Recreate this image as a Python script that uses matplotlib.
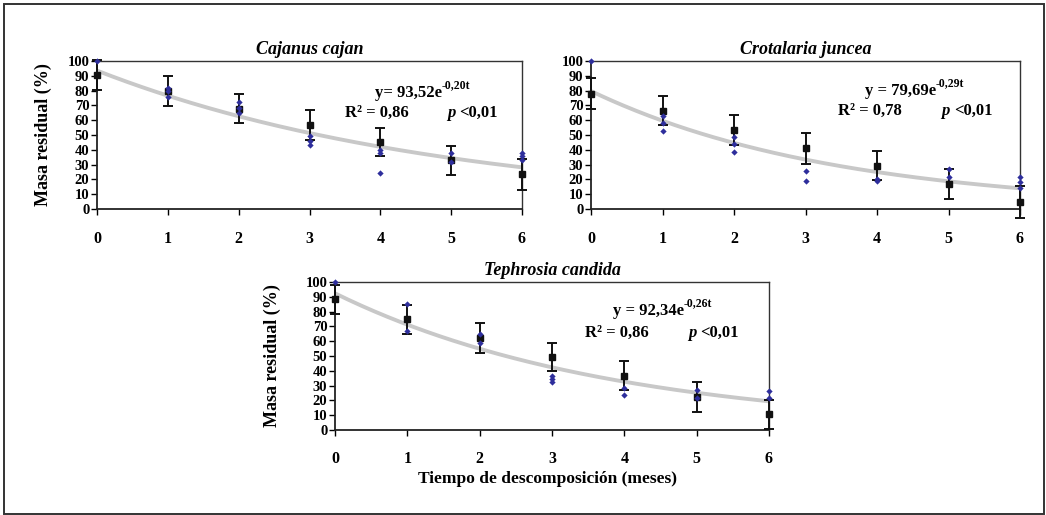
import numpy as np
import matplotlib
matplotlib.use('Agg')
import matplotlib.pyplot as plt
from matplotlib.patches import Rectangle

plt.rcParams['font.family'] = ['Liberation Serif', 'DejaVu Serif']
plt.rcParams['font.weight'] = 'bold'

W, H = 1046, 515

# months of decomposition
months = [0, 1, 2, 3, 4, 5, 6]

# Cajanus cajan
cc_mean = [90.5, 79.7, 67.8, 56.8, 45.5, 32.9, 23.4]
cc_sd = [10.0, 10.0, 10.0, 10.0, 9.5, 10.0, 10.5]
cc_reps = [[100], [82, 80, 76], [72, 68, 65], [49, 46, 43], [40, 38, 24], [38, 32], [38, 36, 33]]

# Crotalaria juncea
cj_mean = [78.0, 66.4, 53.6, 41.0, 29.3, 16.7, 4.9]
cj_sd = [10.2, 9.8, 10.2, 10.3, 9.7, 10.2, 10.8]
cj_reps = [[100], [62.6, 57.9, 52.9], [48.4, 44, 38.7], [25.7, 19.1], [20, 18.8], [27, 21.6], [21.4, 18, 14]]

# Tephrosia candida
tc_mean = [88.3, 74.8, 62.0, 49.5, 36.7, 22.5, 10.6]
tc_sd = [10.0, 9.9, 10.0, 9.6, 9.9, 10.2, 10.0]
tc_reps = [[100], [84.9, 67.1], [64.7, 59], [36.7, 34.5, 32.7], [28.2, 23.6], [27, 21.4], [26.4, 21.4]]

# fitted model y = a * exp(-b t), as printed on each panel
fits = {
    'Cajanus cajan': (93.52, 0.20),
    'Crotalaria juncea': (79.69, 0.29),
    'Tephrosia candida': (92.34, 0.26),
}
eq_text = {
    'Cajanus cajan': ('y= 93,52e', '-0,20t', 'R² = 0,86'),
    'Crotalaria juncea': ('y = 79,69e', '-0,29t', 'R² = 0,78'),
    'Tephrosia candida': ('y = 92,34e', '-0,26t', 'R² = 0,86'),
}


def px_axes(fig, left, top, right, bottom):
    return fig.add_axes([left / W, (H - bottom) / H, (right - left) / W, (bottom - top) / H])


def draw_panel(ax, name, mean, sd, reps, xpad, eq_pos, ylabel_x=None, xlabel=False):
    a, b = fits[name]
    tt = np.linspace(0, 6, 200)
    ax.plot(tt, a * np.exp(-b * tt), color='#c8c8c8', lw=2.8, zorder=2, solid_capstyle='butt')

    ax.errorbar(months, mean, yerr=sd, fmt='s', color='#111111', ms=4.8,
                ecolor='#111111', elinewidth=1.4, capsize=3.6, capthick=1.4,
                zorder=3, clip_on=False)

    rx = [m for m, r in zip(months, reps) for _ in r]
    ry = [v for r in reps for v in r]
    ax.plot(rx, ry, 'D', color='#2e2e9c', ms=3.2, mec='none', zorder=4, clip_on=False)

    ax.set_xlim(0, 6)
    ax.set_ylim(0, 100)
    ax.set_xticks(months)
    ax.set_yticks(range(0, 101, 10))
    ax.tick_params(axis='x', direction='out', length=4, width=1, pad=xpad, labelsize=11.5)
    ax.tick_params(axis='y', direction='out', length=4, width=1, pad=1.5, labelsize=10.5)
    for s in ['left', 'bottom']:
        ax.spines[s].set_linewidth(1.3)
        ax.spines[s].set_color('#222222')
    for s in ['top', 'right']:
        ax.spines[s].set_linewidth(1.0)
        ax.spines[s].set_color('#333333')

    ax.set_title(name, fontsize=13, fontstyle='italic', fontweight='bold', pad=5)

    (ex, ey), (rx0, ry0), px0 = eq_pos
    main, sup, r2 = eq_text[name]
    t1 = ax.text(ex, ey, main, fontsize=12, va='center', ha='left')
    ax.annotate(sup, xy=(1, 0.62), xycoords=t1, fontsize=8.5, va='bottom', ha='left')
    ax.text(rx0, ry0, r2, fontsize=12, va='center', ha='left')
    tp = ax.text(px0, ry0, 'p', fontsize=12, va='center', ha='left', fontstyle='italic')
    ax.annotate('<0,01', xy=(1, 0.5), xycoords=tp, xytext=(3, 0), textcoords='offset points',
                fontsize=12, va='center', ha='left')

    if ylabel_x is not None:
        ax.set_ylabel('Masa residual (%)', fontsize=13, fontweight='bold')
        ax.yaxis.set_label_coords(ylabel_x, 0.5)
    if xlabel:
        ax.set_xlabel('Tiempo de descomposición (meses)', fontsize=12.5, fontweight='bold')
        ax.xaxis.set_label_coords(0.49, -0.28)


fig = plt.figure(figsize=(W / 100, H / 100), dpi=100)

ax1 = px_axes(fig, 97, 61, 522, 209)
draw_panel(ax1, 'Cajanus cajan', cc_mean, cc_sd, cc_reps, 12,
           ((3.92, 78.3), (3.5, 64.8), 4.94), ylabel_x=-0.105)

ax2 = px_axes(fig, 591, 61, 1020, 209)
draw_panel(ax2, 'Crotalaria juncea', cj_mean, cj_sd, cj_reps, 12,
           ((3.83, 80.0), (3.45, 66.5), 4.9))

ax3 = px_axes(fig, 335, 282, 769, 430)
draw_panel(ax3, 'Tephrosia candida', tc_mean, tc_sd, tc_reps, 11,
           ((3.84, 80.5), (3.46, 65.5), 4.88), ylabel_x=-0.125, xlabel=True)

fig.patches.append(Rectangle((4 / W, 1 / H), 1040 / W, 510 / H, transform=fig.transFigure,
                             fill=False, edgecolor='#333333', lw=1.4))

fig.savefig('out.png', dpi=100)
